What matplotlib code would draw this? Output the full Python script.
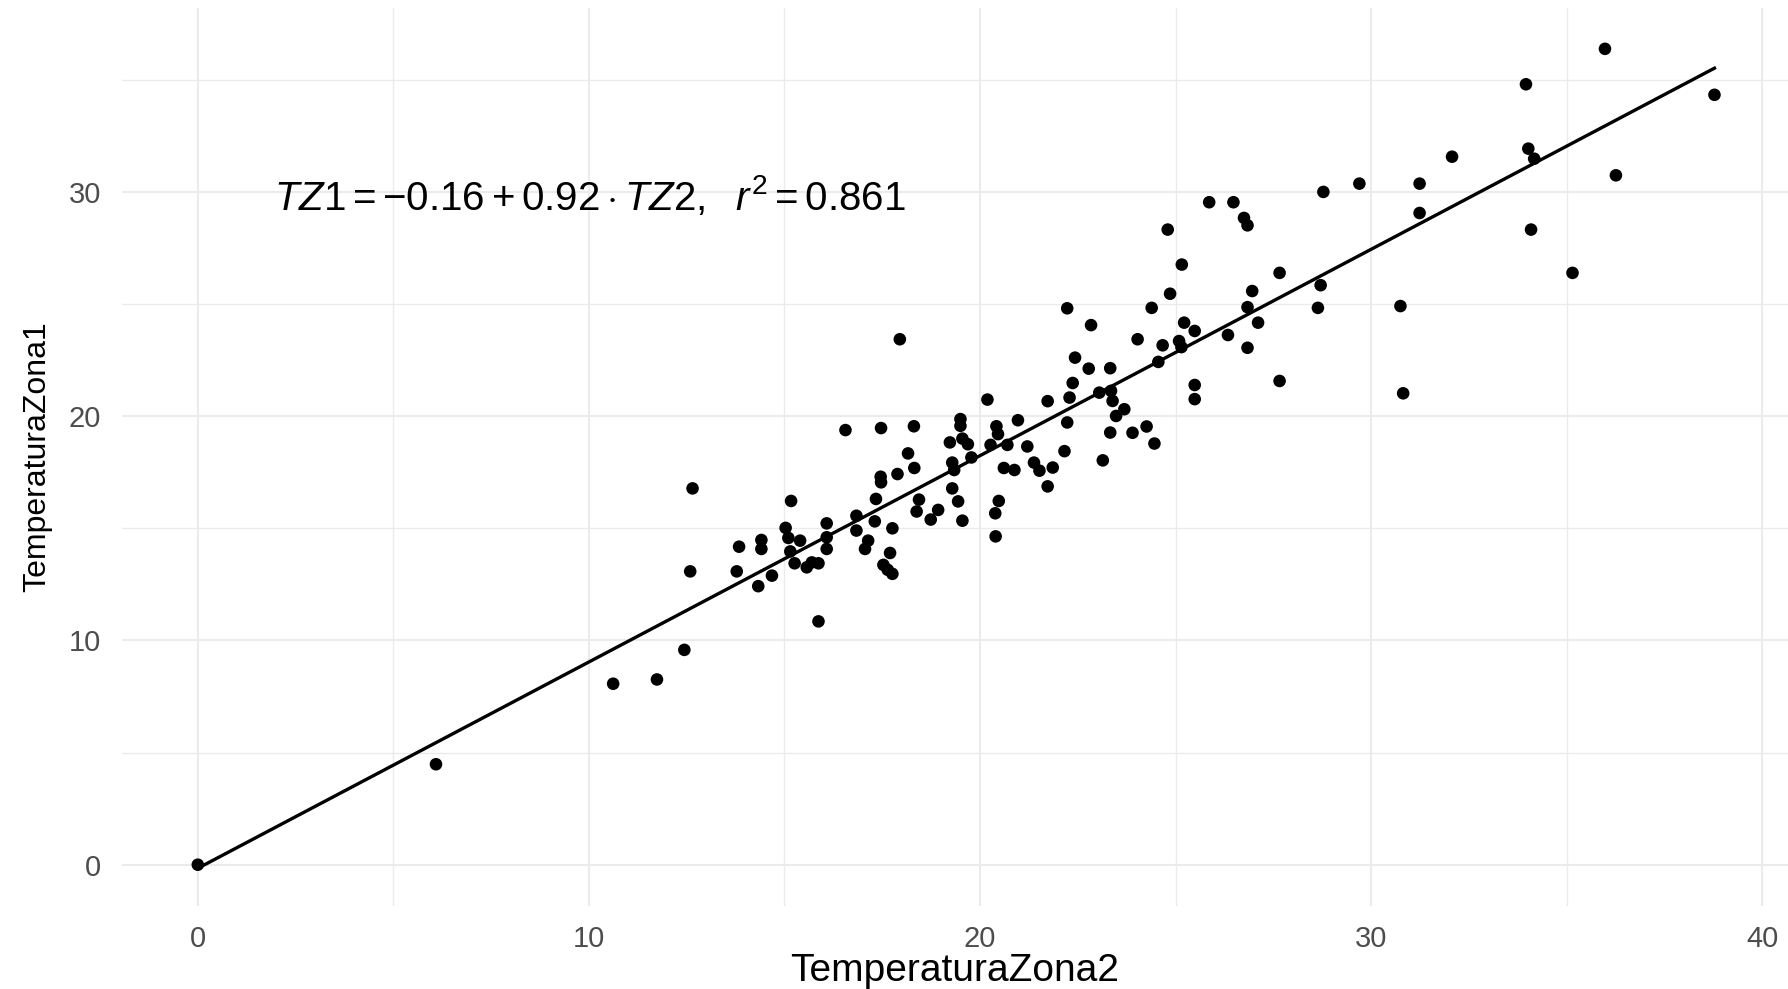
import numpy as np
import matplotlib
matplotlib.use("Agg")
import matplotlib.pyplot as plt
from matplotlib.ticker import MultipleLocator

# dados (TemperaturaZona2, TemperaturaZona1)
tz2 = [0.0, 6.09, 10.62, 11.74, 12.44, 12.59, 12.65, 13.78, 13.84, 14.33,
       14.41, 14.41, 14.68, 15.03, 15.17, 15.10, 15.40, 15.15, 15.26, 15.57,
       15.70, 15.87, 15.87, 16.08, 16.08, 16.08, 16.56, 16.84, 16.84, 17.06,
       17.14, 17.31, 17.34, 17.46, 17.47, 17.47, 17.53, 17.64, 17.76, 17.70,
       17.76, 17.89, 17.95, 18.16, 18.31, 18.32, 18.38, 18.44, 18.74, 18.93,
       19.23, 19.29, 19.34, 19.29, 19.44, 19.55, 19.50, 19.50, 19.55, 19.69,
       19.78, 20.19, 20.27, 20.42, 20.46, 20.48, 20.39, 20.40, 20.61, 20.70,
       20.88, 20.97, 21.21, 21.38, 21.52, 21.73, 21.73, 21.86, 22.16, 22.23,
       22.23, 22.29, 22.37, 22.43, 22.78, 22.84, 23.05, 23.14, 23.33, 23.35,
       23.39, 23.33, 23.48, 23.69, 23.90, 24.03, 24.26, 24.39, 24.46, 24.56,
       24.67, 24.80, 24.86, 25.09, 25.15, 25.16, 25.22, 25.49, 25.49, 25.49,
       25.86, 26.34, 26.48, 26.75, 26.84, 26.84, 26.84, 26.96, 27.11, 27.66,
       27.66, 28.64, 28.71, 28.78, 29.70, 30.75, 30.82, 31.24, 31.24, 32.07,
       33.96, 34.02, 34.17, 34.09, 35.15, 35.98, 36.26, 38.78]
tz1 = [0.0, 4.48, 8.07, 8.26, 9.58, 13.08, 16.78, 13.08, 14.18, 12.42,
       14.48, 14.08, 12.89, 15.02, 16.22, 14.57, 14.45, 13.97, 13.44, 13.26,
       13.48, 13.44, 10.85, 15.22, 14.60, 14.08, 19.38, 15.56, 14.90, 14.08,
       14.45, 15.31, 16.31, 17.30, 17.05, 19.47, 13.37, 13.15, 12.97, 13.90,
       15.00, 17.42, 23.43, 18.34, 19.55, 17.69, 15.75, 16.28, 15.39, 15.82,
       18.83, 17.93, 17.60, 16.78, 16.20, 15.34, 19.87, 19.57, 19.00, 18.75,
       18.16, 20.74, 18.72, 19.55, 19.20, 16.22, 15.67, 14.64, 17.69, 18.72,
       17.60, 19.82, 18.65, 17.93, 17.57, 20.67, 16.87, 17.71, 18.44, 19.72,
       24.81, 20.83, 21.48, 22.61, 22.12, 24.06, 21.05, 18.03, 22.14, 21.13,
       20.68, 19.27, 20.01, 20.31, 19.26, 23.43, 19.54, 24.83, 18.78, 22.42,
       23.16, 28.32, 25.46, 23.35, 23.08, 26.76, 24.17, 23.80, 21.39, 20.76,
       29.54, 23.62, 29.54, 28.84, 28.51, 24.86, 23.05, 25.58, 24.17, 26.39,
       21.57, 24.83, 25.84, 30.00, 30.37, 24.91, 21.02, 30.37, 29.06, 31.57,
       34.80, 31.93, 31.48, 28.32, 26.39, 36.38, 30.74, 34.33]

# coeficientes da regressao (como no texto do grafico)
intercepto = -0.16
inclinacao = 0.92
r2 = 0.861

plt.rcParams['font.family'] = ['Liberation Sans', 'DejaVu Sans']
plt.rcParams['mathtext.fontset'] = 'custom'
plt.rcParams['mathtext.rm'] = 'Liberation Sans'
plt.rcParams['mathtext.it'] = 'Liberation Sans:italic'

fig = plt.figure(figsize=(17.88, 9.89), dpi=100)
ax = fig.add_axes([0.0682, 0.0844, 0.9318, 0.9075])

ax.scatter(tz2, tz1, s=82, color='black', edgecolors='none', zorder=3)

xl = np.array([min(tz2), max(tz2)])
ax.plot(xl, intercepto + inclinacao * xl, color='black', lw=2.4, zorder=2)

eq = (r'$TZ1 = $' + '\u2212' +
      r'$%.2f + %.2f \cdot TZ2,\ \ r^2 = %.3f$' % (abs(intercepto), inclinacao, r2))
ax.text(1.94, 29.8, eq, ha='left', va='center', fontsize=29, color='black')

ax.set_xlim(-1.94, 40.66)
ax.set_ylim(-1.82, 38.2)
ax.xaxis.set_major_locator(MultipleLocator(10))
ax.xaxis.set_minor_locator(MultipleLocator(5))
ax.yaxis.set_major_locator(MultipleLocator(10))
ax.yaxis.set_minor_locator(MultipleLocator(5))
ax.grid(which='major', color='#EBEBEB', lw=1.5)
ax.grid(which='minor', color='#EBEBEB', lw=1.0)
ax.set_axisbelow(True)
for s in ax.spines.values():
    s.set_visible(False)
ax.tick_params(which='both', length=0, labelsize=21, labelcolor='#4D4D4D')
ax.tick_params(axis='y', pad=15)
ax.tick_params(axis='x', pad=14)

ax.set_xlabel('TemperaturaZona2', fontsize=28, labelpad=0)
ax.set_ylabel('TemperaturaZona1', fontsize=23, labelpad=12)

fig.savefig('out.png', dpi=100)
